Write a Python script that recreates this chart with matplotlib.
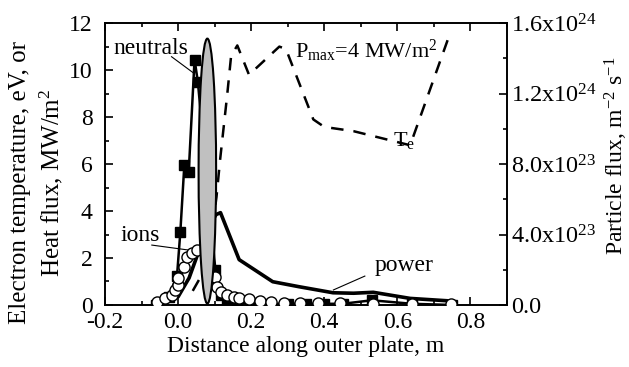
import numpy as np
import matplotlib
matplotlib.use('Agg')
import matplotlib.pyplot as plt
from matplotlib.patches import Ellipse
from matplotlib.ticker import MultipleLocator, FuncFormatter

plt.rcParams['font.family'] = ['Liberation Serif', 'DejaVu Serif']
plt.rcParams['mathtext.fontset'] = 'custom'
plt.rcParams['mathtext.rm'] = 'Liberation Serif'
plt.rcParams['mathtext.it'] = 'Liberation Serif:italic'
plt.rcParams['font.size'] = 17

# heat flux (MW/m2), left axis
power_x = [-0.065, 0.0, 0.03, 0.061, 0.09, 0.104, 0.116, 0.167, 0.259, 0.33, 0.424, 0.48, 0.534, 0.635, 0.746]
power_y = [0.05, 0.35, 1.15, 2.48, 3.5, 3.85, 3.93, 1.93, 0.99, 0.78, 0.52, 0.5, 0.54, 0.28, 0.17]

# electron temperature (eV), left axis
te_x = [0.04, 0.06, 0.09, 0.105, 0.115, 0.134, 0.145, 0.162, 0.194, 0.277, 0.295, 0.37, 0.4, 0.48, 0.635, 0.745]
te_y = [0.6, 1.15, 2.8, 4.6, 6.2, 8.9, 10.6, 11.05, 9.8, 11.0, 10.9, 7.9, 7.58, 7.4, 6.8, 11.6]

# neutral particle flux (m^-2 s^-1), right axis
neut_x = [-0.06, -0.026, -0.003, 0.006, 0.017, 0.029, 0.045, 0.054, 0.102, 0.116, 0.134,
          0.16, 0.2, 0.25, 0.3, 0.35, 0.4, 0.45, 0.53, 0.64, 0.75]
neut_y = np.array([0.0, 0.35, 1.25, 3.09, 5.96, 5.65, 10.45, 9.5, 1.49, 0.43, 0.24,
                   0.1, 0.08, 0.05, 0.05, 0.05, 0.05, 0.05, 0.2, 0.05, 0.0]) * 1.6e24 / 12

# ion particle flux (m^-2 s^-1), right axis
ion_x = [-0.059, -0.036, -0.017, -0.008, -0.001, 0.001, 0.015, 0.024, 0.038, 0.052,
         0.102, 0.107, 0.116, 0.134, 0.153, 0.167, 0.195, 0.224, 0.255, 0.29, 0.334,
         0.384, 0.444, 0.534, 0.64, 0.746]
ion_y = np.array([0.14, 0.28, 0.43, 0.64, 0.85, 1.13, 1.63, 2.06, 2.23, 2.34,
                  1.18, 0.78, 0.57, 0.43, 0.35, 0.3, 0.25, 0.17, 0.14, 0.1, 0.08,
                  0.08, 0.08, 0.05, 0.05, 0.05]) * 1.6e24 / 12

fig = plt.figure(figsize=(6.29, 3.67), dpi=100)
ax = fig.add_axes([0.167, 0.169, 0.639, 0.768])
ax2 = ax.twinx()

ax.plot(power_x, power_y, color='black', lw=2.6, zorder=3)
ax.plot(te_x, te_y, color='black', lw=1.8, dashes=(5, 4), zorder=3)

ax2.plot(neut_x, neut_y, color='black', lw=1.8, marker='s', ms=7, zorder=3)
ax2.plot(ion_x, ion_y, ls='none', marker='o', ms=8, mfc='white', mec='black', mew=1.0, zorder=4)

ell = Ellipse((0.08, 5.7 * 1.6e24 / 12), 0.048, 11.28 * 1.6e24 / 12,
              facecolor='#c0c0c0', edgecolor='black', lw=1.5, zorder=5)
ax2.add_patch(ell)

ax.set_xlim(-0.2, 0.9)
ax.set_ylim(0, 12)
ax2.set_ylim(0, 1.6e24)

ax.xaxis.set_major_locator(MultipleLocator(0.2))
ax.xaxis.set_minor_locator(MultipleLocator(0.1))
ax.yaxis.set_major_locator(MultipleLocator(2))
ax.yaxis.set_minor_locator(MultipleLocator(1))
ax2.yaxis.set_major_locator(MultipleLocator(4e23))
ax2.yaxis.set_minor_locator(MultipleLocator(2e23))


def flux_fmt(v, pos):
    if v < 1e20:
        return '0.0' if abs(v) < 1e20 else ''
    e = int(np.floor(np.log10(v)))
    m = v / 10**e
    return '%.1fx10$^{%d}$' % (m, e)


ax2.yaxis.set_major_formatter(FuncFormatter(flux_fmt))
ax.xaxis.set_major_formatter(FuncFormatter(lambda v, p: '%.1f' % v))

ax.tick_params(which='both', direction='in', top=True, width=1.2)
ax.tick_params(which='major', length=6)
ax.tick_params(axis='y', which='major', pad=9)
ax.tick_params(axis='x', which='major', pad=5)
ax.tick_params(which='minor', length=3)
ax2.tick_params(which='both', direction='in', width=1.2)
ax2.tick_params(which='major', length=6, pad=3, labelsize=17.5)
ax2.tick_params(which='minor', length=3)
for a in (ax, ax2):
    for s in a.spines.values():
        s.set_linewidth(1.2)

ax.set_xlabel('Distance along outer plate, m', labelpad=2)
ax.set_ylabel('Electron temperature, eV, or\nHeat flux, MW/m$^2$', linespacing=1.3, fontsize=18)
ax.yaxis.set_label_coords(-0.1, 0.433)
ax2.set_ylabel('Particle flux, m$^{-2}$ s$^{-1}$', fontsize=17)
ax2.yaxis.set_label_coords(1.239, 0.53)

ax.text(-0.178, 10.9, 'neutrals', ha='left', va='center', fontsize=17, zorder=6)
ax.plot([-0.018, 0.041], [10.57, 9.89], color='black', lw=0.8)
ax.text(-0.159, 2.95, 'ions', ha='left', va='center', fontsize=17)
ax.plot([-0.072, 0.028], [2.55, 2.34], color='black', lw=0.8)
ax.text(0.539, 1.66, 'power', ha='left', va='center', fontsize=17)
ax.plot([0.511, 0.425], [1.23, 0.64], color='black', lw=0.8)
ax.text(0.32, 10.8, 'P$_{\\rm max}$=4 MW/m$^2$', ha='left', va='center', fontsize=16)
ax.text(0.587, 7.0, 'T$_{\\rm e}$', ha='left', va='center', fontsize=16)

fig.savefig('out.png', dpi=100)
